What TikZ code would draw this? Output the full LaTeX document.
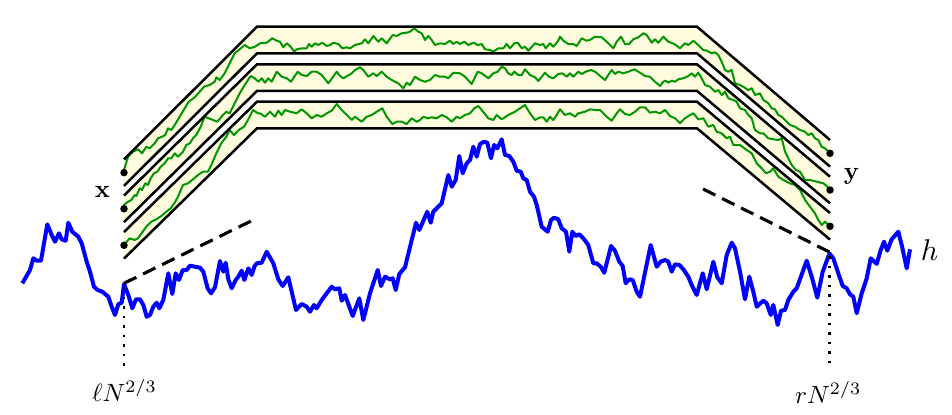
\documentclass[tikz,border=0pt]{standalone}
\usetikzlibrary{calc}
\definecolor{bandfill}{RGB}{255,251,222}
\definecolor{walkgreen}{RGB}{0,150,0}
\begin{document}
\begin{tikzpicture}[x=0.4pt,y=-0.4pt,
  bandline/.style={draw=black,line width=1pt},
  walk/.style={walkgreen,line width=0.8pt,line join=round},
  hcurve/.style={blue,line width=1.6pt,line join=round},
  tangent/.style={black,line width=1.25pt,dash pattern=on 5.5pt off 3pt},
  guide/.style={black,line width=1pt,dash pattern=on 1pt off 2.8pt},
  endpt/.style={circle,fill=black,inner sep=0pt,minimum size=3pt},
  lab/.style={anchor=base,inner sep=0pt}]
\useasboundingbox (0,0) rectangle (952,414);
% band fills
\foreach \a/\b/\c in {159.3/26.7/140, 195.5/64.3/176.7, 232/101.7/213}{
  \fill[bandfill] (124,\a) -- (257,\b) -- (697,\b) -- (830,\c) -- (830,{\c+26.6}) -- (697,{\b+26.6}) -- (257,{\b+26.6}) -- (124,{\a+26.6}) -- cycle;
}
% green walks
\draw[walk] plot coordinates {(124,172.6) (124,170) (128,156.7) (133,151.7) (138,149.3) (142,153.3) (146.3,146.7) (149.7,148.3) (154.7,143.3) (158,138.3) (162,136.7) (165.3,135) (168,128.3) (171.3,130) (174.7,125) (179.7,116.7) (184.7,108.3) (188.7,101.7) (194.7,97.3) (199.7,91.7) (204,86.7) (209.7,85) (214.7,81.7) (216.3,77.3) (219.7,80) (224.7,73.3) (229.7,63.3) (234.7,53.3) (239.7,49.3) (244.7,45) (249.7,48.3) (255,46.7) (260,43.3) (266.7,42.7) (272.3,38.3) (276.7,40.7) (280,41.7) (283.3,47.3) (286.7,43.3) (290,46) (294.3,51.7) (296.7,49.3) (301.7,48.3) (306.7,48.3) (309,44) (311.7,46.7) (315,43.3) (318.3,45) (322.3,42.7) (326.7,46) (330,45) (333.3,42.7) (338.3,44) (342.3,48.3) (346.7,47.3) (350,48.3) (355,45) (361.7,43.3) (365,39.3) (368.3,43.3) (373.3,36) (378.3,41.7) (381.7,38.3) (386.7,43.3) (392.7,35) (396.7,36) (401.7,33.3) (406.7,32.7) (410,31.7) (414.3,28.3) (418.3,31.7) (421.7,33.3) (425,40) (428.3,36) (431.7,40) (435,45) (440,43.3) (445,44) (450,40.7) (453.3,44) (456.7,41.7) (460,44) (464.3,41.7) (468.3,45) (473.3,42.7) (477.7,45) (481.7,44) (485,49.3) (490,50) (493.3,51.7) (498.3,48.3) (503.3,48.3) (506.7,44) (510,48.3) (514.3,43.3) (517.7,42.7) (521.7,48.3) (525,46.7) (528.3,50.7) (535,43.3) (540,45) (543.3,44) (545.7,48.3) (550,43.3) (553.3,46.7) (558.3,40.7) (560,36.7) (563.3,40.7) (568.3,44) (573.3,44) (576.7,46) (581.7,38.3) (586.7,40.7) (590,40) (595,36.7) (601.7,37.3) (606.7,41.7) (610,45) (613.3,48.3) (616.7,41.7) (621,36.7) (625,44) (629,44) (633.3,39.3) (638.3,37.3) (643.3,33.3) (646.7,35) (651.7,42.7) (655,39.3) (658.3,42.7) (663.3,36.7) (668.3,41.7) (674.3,44) (680,48.3) (685,43.3) (688.3,45) (693.3,40.7) (698.3,45) (703.3,50) (706.7,50.7) (711.7,53.3) (715,52.3) (718.3,55) (721.7,61.7) (725,70) (728.3,71.7) (731.7,70) (735,83.3) (740,85) (743.3,86.7) (748.3,90) (751.7,88.3) (755,95) (760,93.3) (763.3,100) (768.3,103.3) (771.7,108.3) (775,109.3) (778.3,115) (781.7,116.7) (786.7,121.7) (790,125) (795,126.7) (800,130) (805,131.7) (808.3,135) (811.7,133.3) (815,138.3) (818.3,140) (821.7,146.7) (825,148.3) (830,153.3)};
\draw[walk] plot coordinates {(124,208.8) (124,205) (128,201.7) (131.3,200) (134.7,195) (136.3,196) (139.7,188.3) (142,190) (145.3,183.3) (148,185) (150.7,178.3) (154,173.3) (157.3,171.7) (160.7,166.7) (164.7,163.3) (168,158.3) (171.3,158.3) (174.7,153.3) (178,156.7) (183,151.7) (186.3,145) (189.7,143.3) (193,138.3) (196.3,135) (200.7,126.7) (204.7,116.7) (211.3,119.3) (217.3,121.7) (223,115) (226.3,111.7) (229.7,113.3) (234.7,103.3) (239.7,93.3) (244.7,85) (250.7,76) (254.7,78.3) (258.3,81.7) (261.7,78.3) (265,82.7) (268.3,78.3) (271.7,81.7) (276.7,71.7) (281.7,76.7) (286.7,78.3) (291,81.7) (297.7,71.7) (301.7,75) (306.7,76) (311.7,71.7) (316.7,71.7) (321.7,75) (328.3,83.3) (336.7,71.7) (340,76) (343.3,78.3) (351.7,73.3) (355,70) (360,67.3) (363.3,70) (368.3,76.7) (373.3,73.3) (376.7,76) (381.7,71.7) (386.7,76.7) (391.7,80) (398.3,83.3) (403.3,88.3) (406.7,82.7) (410,85) (415,76.7) (420,80) (425,81.7) (430,80) (435,75) (440,76.7) (445,76.7) (448.3,78.3) (453.3,72.7) (460,73.3) (465,76.7) (471.7,84) (477.7,71.7) (481.7,73.3) (488.3,78.3) (493.3,73.3) (497.7,71.7) (501.7,66.7) (505,68.3) (508.3,73.3) (511.7,75) (514.3,71.7) (518.3,75) (521.7,75) (525,69.3) (530,75) (535,77.3) (538.3,81) (545,72.7) (549,76.7) (553.3,78.3) (558.3,74) (562.3,73.3) (566.7,76.7) (570,73.3) (573.3,76.7) (578.3,71.7) (581.7,74) (585.7,71.7) (591,70) (595,71.7) (601,76.7) (605,80) (611.7,70) (615,74) (618.3,71.7) (623.3,73.3) (628.3,71.7) (634.3,69.3) (640,72.7) (645,76) (650,76.7) (655,81.7) (660,86) (663.3,81.7) (665.7,80.7) (668.3,82.7) (671.7,80.7) (675,81.7) (678.3,79.3) (683.3,78.3) (688.3,76) (691.7,73.3) (695,76.7) (698.3,72.7) (701.7,78.3) (705,85) (710,86.7) (715,91.7) (718.3,90) (721.7,95) (725,91.7) (728.3,98.3) (733.3,100) (736.7,101.7) (740,108.3) (745,110) (748.3,115) (751.7,118.3) (755,130) (760,133.3) (763.3,133.3) (768.3,138.3) (773.3,139.3) (778.3,140) (781.7,138.3) (785,151.7) (788.3,158.3) (791.7,165) (796,170) (800,171.7) (805,180) (810,180) (816.7,181.7) (823.3,183.3) (826.7,186) (830,190)};
\draw[walk] plot coordinates {(124,245.3) (124.7,244) (129.7,238.3) (134.7,240) (138,238.3) (142,232.7) (146.3,226.7) (151.3,221.7) (156.3,219.3) (161.3,216) (166.3,211.7) (170.7,208.3) (174.7,202.7) (178,196.7) (183,185) (188,183.3) (193,179.3) (198,175) (203,171.7) (208,171.7) (211.3,165) (216.3,153.3) (221.3,143.3) (226.3,136.7) (229.7,130) (234,135) (238.7,130) (244,126.7) (248,120) (253,110) (258,113.3) (260,113.3) (265,116.7) (270,111.7) (275,116.7) (278.3,110.7) (281.7,115) (285,110) (290,111.7) (296.7,113.3) (301.7,109.3) (306.7,113.3) (311.7,118.3) (316.7,115) (321.7,116.7) (326.7,113.3) (331.7,110.7) (336.7,104) (341.7,110) (346.7,115) (351.7,120) (355,116.7) (361.7,121.7) (366.7,116.7) (371.7,115) (376.7,111.7) (382.3,108.3) (386.7,116.7) (392.3,124) (396.7,121.7) (401.7,121.7) (406.7,124) (411.7,118.3) (416.7,121.7) (420,120) (423.3,116.7) (427.7,118.3) (431.7,117.3) (436.7,118.3) (441.7,115) (446.7,117.3) (451.7,121.7) (456.7,116.7) (460,118.3) (465,115) (470,113.3) (474.3,108.3) (478.3,106) (481.7,110) (488.3,118.3) (493.3,120) (496.7,115) (501.7,119.3) (508.3,115) (515,111.7) (520,108.3) (525,105) (530,113.3) (535,120) (540,117.3) (543.3,117.3) (546.7,121.7) (550,116.7) (553.3,120) (556.7,115) (560,109.3) (565,115) (570,113.3) (575,116.7) (578.3,113.3) (585,111.7) (590,109.3) (595,110) (600,110) (606.7,116.7) (611.7,120.7) (616.7,113.3) (620,109.3) (625,114) (630,115) (635,111.7) (640,107.3) (645,107.3) (650,112.7) (655,111.7) (660,113.3) (665,110) (670,116) (675,118.3) (680,123.3) (685,118.3) (688.3,116) (693.3,113.3) (698.3,119.3) (703.3,118.3) (708.3,126.7) (713.3,125) (716.7,131.7) (721.7,133.3) (726.7,138.3) (730,136.7) (733.3,145) (740,145) (746.7,150) (751.7,153.3) (756.7,163.3) (761.7,168.3) (766,173.3) (770,171.7) (773.3,168.3) (778.3,176.7) (783.3,180) (790,183.3) (795,185) (800,190) (805,200) (810,206.7) (815,213.3) (818.3,220) (821.7,225) (825,221.7) (830,226.3)};
% band outlines and end points
\foreach \a/\b/\c [count=\k] in {159.3/26.7/140, 195.5/64.3/176.7, 232/101.7/213}{
  \draw[bandline] (124,\a) -- (257,\b) -- (697,\b) -- (830,\c);
  \draw[bandline] (124,{\a+26.6}) -- (257,{\b+26.6}) -- (697,{\b+26.6}) -- (830,{\c+26.6});
  \node[endpt] (xs\k) at (124,{\a+13.3}) {};
  \node[endpt] (ys\k) at (830,{\c+13.3}) {};
}
% the curve h
\draw[hcurve] plot coordinates {(22.3,283.3) (27.7,274) (30,270) (33.3,258.3) (36.7,260.7) (41,260.7) (47.3,224.3) (51.7,235) (55,241.7) (59,233.3) (61.7,239.3) (65.7,240.7) (68.3,222.7) (72.3,231.7) (78.3,236.7) (81.7,243.3) (86.7,261.7) (90,271.7) (94,286.7) (97.7,290) (102.3,291.7) (108.3,296.7) (111.7,306.7) (115,315) (118.3,304.3) (121.7,302.7) (124,284) (128.3,295) (132.3,308.3) (136,299.3) (140,299.3) (143.3,305) (146.7,316.7) (150,315) (153.3,306.7) (156.7,302.7) (159.3,308.3) (163.3,300) (168.3,273.3) (172.3,294) (175.7,273.3) (179,280) (182.7,270) (186.7,270) (190,265.7) (195,266.7) (200,267.7) (203.3,271.7) (207.7,288.3) (211,293.3) (215,287.3) (220,261) (223.3,271.7) (225.7,262.7) (228.3,279.3) (231.7,288.3) (235.7,280) (238.3,276.7) (241.7,270.7) (244.3,280) (248.3,268.3) (251.7,275) (254.3,266.7) (256.7,263.3) (261.7,262.7) (266.7,251.7) (273.3,263.3) (278.3,279.3) (282.7,286) (288.3,277.3) (296,310) (301.7,304) (306.7,306.7) (310,311.7) (314,305) (316.7,308.3) (321.7,300) (331.7,286.7) (335,289.3) (339.3,288.3) (341.7,300.7) (345,295) (352.7,316) (359.3,298.3) (363.3,320) (370,293.3) (377.7,270) (381,286) (385,276.7) (390,279.3) (392.7,278.3) (395.7,290) (399.3,274) (405,267.3) (416,222.7) (419.3,230) (427.3,211.7) (430.7,222.7) (433.3,211.7) (441.7,203.3) (448.3,175) (451.7,186.7) (455.7,180) (459.3,156) (462.7,173.3) (466.7,163.3) (470,160) (473.3,146.7) (476.7,156.7) (480,144) (484,141.7) (487.3,142.7) (491,158.3) (494,145) (497.3,148.3) (501.7,139.3) (505,155) (509.3,156) (513.3,161.7) (516.7,170.7) (520.7,171.7) (523.3,178.3) (526.7,180) (530,191.7) (534,196.7) (536.7,205) (541.7,226.7) (547.7,231.7) (551,220) (554,217.7) (558.3,219.3) (561.7,228.3) (566,231.7) (569.3,251.7) (572.3,231.7) (575.7,236) (579.3,234.3) (583.3,238.3) (588.3,245) (593.3,263.3) (596.7,263.3) (600.7,266.7) (604.3,272.7) (611,246) (615,250.7) (619.3,261.7) (622.7,266) (625.7,283.3) (629.3,279.3) (632.7,280) (636.7,291.7) (640,296.7) (644,277.3) (650.7,245) (656.7,266.7) (660.7,261.7) (665,260) (668.3,261.7) (671.7,271.7) (675,264.3) (679.3,265) (683.3,269.3) (688.3,276.7) (691.7,285) (696.7,295) (702.7,273.3) (706.7,289.3) (713.3,261.7) (717.3,277.3) (721.7,283.3) (726.7,255) (731.7,242.7) (735,248.3) (740,271.7) (745,299.3) (749.3,276.7) (753.3,291.7) (756.7,306.7) (763.3,300.7) (766.7,303.3) (770.7,315) (773.3,305) (777.7,325) (781,310.7) (785,310) (788.3,300) (793.3,291.7) (796.7,288.3) (806.7,260.7) (811.7,276.7) (817.3,297.7) (822.7,271.7) (829.5,253.5) (833.3,258.3) (838.3,273.3) (842.7,286) (846.7,288.3) (850,294.3) (853.3,296.7) (856.7,313.3) (861.7,293.3) (866.7,278.3) (870.7,258.3) (876.7,264) (880.7,250) (884,241.7) (887.3,250.7) (891.7,239.3) (898.3,231.7) (901.7,245) (906.7,268.3) (910,249.3)};
% tangent lines and guides
\coordinate (lt) at (124,283.3);
\coordinate (lte) at (251.7,220.7);
\coordinate (rt) at (829.5,252);
\coordinate (rte) at (701.7,188.3);
\coordinate (lb) at (124,372);
\coordinate (rb) at (829.5,367);
\draw[tangent] (lt) -- (lte);
\draw[tangent] (rt) -- (rte);
\draw[guide] (124,287) -- (lb);
\draw[guide] (829.5,256) -- (rb);
% labels
\node[lab] (labx) at (102.5,197.3) {$\mathbf{x}$};
\node[lab] (laby) at (851.7,179.3) {$\mathbf{y}$};
\node[lab,scale=1.2] (labh) at (929.5,260) {$h$};
\node[lab] (labl) at (124.5,401.7) {$\ell N^{2/3}$};
\node[lab] (labr) at (828.3,403.3) {$rN^{2/3}$};
\end{tikzpicture}
\end{document}
